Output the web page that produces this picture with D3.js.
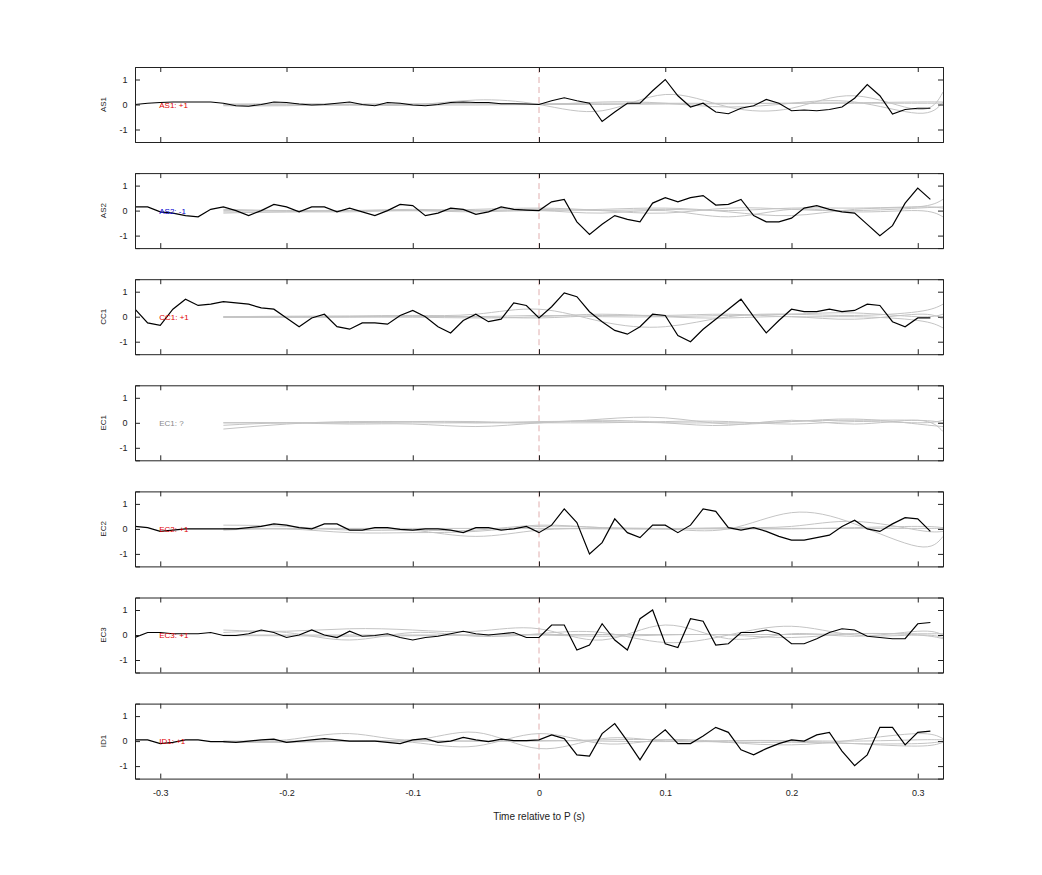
<!DOCTYPE html>
<html>
<head>
<meta charset="utf-8">
<script src="https://cdn.jsdelivr.net/npm/d3@7"></script>
<style>
  body { margin: 0; background: #fff; }
  text { font-family: "Liberation Sans", Arial, sans-serif; }
</style>
</head>
<body>
<div id="chart"></div>
<script>
// stations and their polarity labels
const stations = ["AS1", "AS2", "CC1", "EC1", "EC2", "EC3", "ID1"];
const polarity = ["+1", "-1", "+1", "?", "+1", "+1", "+1"];

// black trace sample times: -0.32 .. 0.31 every 0.01
const traceT = d3.range(64).map(i => Math.round((-0.32 + i * 0.01) * 100) / 100);

const traceAS1 = [0, 0.05, 0.08, 0.1, 0.1, 0.1, 0.1, 0.05, -0.05, -0.07, 0, 0.1, 0.08, 0.02, -0.02, 0, 0.05, 0.1, 0, -0.05, 0.08, 0.05, -0.02, -0.05, 0, 0.08, 0.1, 0.08, 0.08, 0.03, 0.03, 0.02,
  0, 0.15, 0.27, 0.15, 0.05, -0.68, -0.3, 0.05, 0.05, 0.55, 1.0, 0.35, -0.1, 0.05, -0.3, -0.37, -0.15, -0.05, 0.2, 0.05, -0.25, -0.22, -0.25, -0.2, -0.1, 0.25, 0.8, 0.35, -0.38, -0.2, -0.15, -0.15];
const traceAS2 = [0.15, 0.15, -0.05, -0.1, -0.2, -0.25, 0.05, 0.15, 0, -0.2, 0, 0.25, 0.15, -0.05, 0.15, 0.15, -0.05, 0.1, -0.05, -0.2, 0, 0.25, 0.2, -0.2, -0.1, 0.1, 0.05, -0.15, -0.05, 0.15, 0.05, 0.02,
  0, 0.35, 0.45, -0.45, -0.95, -0.55, -0.2, -0.35, -0.45, 0.3, 0.52, 0.35, 0.52, 0.6, 0.22, 0.25, 0.45, -0.2, -0.45, -0.45, -0.3, 0.1, 0.2, 0.05, -0.05, -0.1, -0.55, -1.0, -0.6, 0.3, 0.9, 0.45];
const traceCC1 = [0.3, -0.25, -0.35, 0.3, 0.7, 0.45, 0.5, 0.6, 0.55, 0.5, 0.35, 0.3, -0.05, -0.4, -0.05, 0.1, -0.4, -0.5, -0.25, -0.25, -0.3, 0.05, 0.25, 0, -0.4, -0.65, -0.15, 0.1, -0.2, -0.1, 0.55, 0.45,
  -0.05, 0.4, 0.95, 0.8, 0.2, -0.2, -0.55, -0.7, -0.4, 0.1, 0.05, -0.75, -1.0, -0.5, -0.1, 0.3, 0.7, 0, -0.65, -0.15, 0.3, 0.2, 0.2, 0.3, 0.2, 0.25, 0.5, 0.45, -0.2, -0.4, -0.05, -0.05];
const traceEC1 = null;
const traceEC2 = [0.1, 0.05, -0.1, -0.05, 0, 0, 0, 0, 0, 0.05, 0.1, 0.2, 0.15, 0.05, 0, 0.2, 0.2, -0.05, -0.05, 0.05, 0.05, -0.02, -0.05, 0, 0, -0.05, -0.15, 0.05, 0.05, -0.05, 0, 0.1,
  -0.15, 0.15, 0.8, 0.25, -1.0, -0.55, 0.4, -0.15, -0.35, 0.15, 0.15, -0.15, 0.15, 0.8, 0.7, 0.05, -0.05, 0.05, -0.1, -0.3, -0.45, -0.45, -0.35, -0.25, 0.1, 0.35, 0, -0.1, 0.2, 0.45, 0.4, -0.1];
const traceEC3 = [-0.1, 0.1, 0.1, 0.05, 0.05, 0.05, 0.1, -0.02, -0.02, 0.05, 0.2, 0.1, -0.1, 0, 0.2, 0, -0.1, 0.15, -0.05, -0.02, 0.05, -0.1, -0.2, -0.1, -0.05, 0.05, 0.15, 0.05, 0, 0.05, 0.1, -0.1,
  -0.1, 0.4, 0.4, -0.6, -0.4, 0.45, -0.2, -0.6, 0.65, 1.0, -0.35, -0.5, 0.65, 0.55, -0.4, -0.35, 0.1, 0.1, 0.2, 0.05, -0.35, -0.35, -0.15, 0.1, 0.25, 0.2, -0.05, -0.1, -0.15, -0.15, 0.45, 0.5];
const traceID1 = [0.05, 0.05, -0.1, -0.05, 0.05, 0.05, -0.02, -0.02, -0.05, 0, 0.05, 0.08, -0.05, 0, 0.05, 0.1, 0.05, 0, 0, 0, -0.05, -0.1, 0.05, 0.1, -0.05, 0, 0.15, 0.05, -0.02, 0.08, 0.02, 0.02,
  0.05, 0.25, 0.1, -0.55, -0.6, 0.3, 0.7, 0, -0.75, 0.05, 0.45, -0.1, -0.1, 0.2, 0.55, 0.35, -0.35, -0.55, -0.3, -0.1, 0.05, 0, 0.25, 0.35, -0.4, -0.98, -0.55, 0.55, 0.55, -0.15, 0.35, 0.4];
const traces = [traceAS1, traceAS2, traceCC1, traceEC1, traceEC2, traceEC3, traceID1];

// grey (synthetic) traces, coarse samples, drawn smooth
const greyT = [-0.25, -0.2, -0.15, -0.1, -0.05, 0, 0.05, 0.1, 0.15, 0.2, 0.25, 0.3, 0.32];
const greyAS1 = [
  [0, 0.02, 0, -0.02, 0.18, 0, -0.25, 0.4, -0.1, -0.15, 0.35, -0.2, 0.5],
  [-0.05, -0.05, 0, 0, 0.05, 0, 0.1, 0.05, -0.1, 0.05, 0.1, -0.35, 0.1],
  [0.02, 0.02, 0.02, 0.03, 0.03, 0.03, 0.05, 0.05, 0.05, 0.05, 0.07, 0.1, 0.1],
  [-0.02, -0.02, -0.03, -0.02, -0.02, 0, 0, 0.02, 0.03, 0.05, 0.05, 0.05, 0.05]
];
const greyAS2 = [
  [-0.05, -0.05, 0, 0, 0.05, 0.1, 0, -0.1, 0.1, 0.05, 0, 0.1, 0.15],
  [0.05, 0, 0, 0.05, 0, 0, 0.05, 0.1, -0.05, -0.2, 0.05, 0.15, 0.45],
  [-0.1, -0.05, -0.05, 0, -0.05, 0, -0.1, 0, -0.25, 0.05, -0.05, 0, -0.25],
  [0, 0, 0, 0, 0, 0.05, 0, 0.05, 0, 0.1, 0.1, 0.15, 0.1]
];
const greyCC1 = [
  [0, 0.02, 0.03, 0.05, 0.1, 0.3, -0.2, -0.4, 0, 0.1, 0.05, 0.2, 0.5],
  [-0.02, 0, 0, 0, 0, -0.05, 0.05, 0.05, 0.1, 0, 0, -0.15, -0.45],
  [0, 0, 0, 0.02, 0, 0.05, 0, 0, 0.05, 0.1, 0.15, 0, 0.1],
  [-0.03, -0.03, -0.02, -0.02, -0.05, 0, 0.1, 0, -0.05, 0, -0.1, 0.1, -0.1]
];
const greyEC1 = [
  [-0.25, -0.05, 0.05, 0.05, 0.05, 0, 0.15, 0.2, -0.05, 0.05, 0.1, 0.1, 0],
  [0, 0, -0.05, -0.05, -0.15, 0, 0.1, 0, -0.1, 0.1, -0.05, 0.1, -0.35],
  [-0.1, 0, 0, 0.05, 0, 0, 0, 0.05, 0.05, -0.05, 0.05, 0, 0.1],
  [0, 0, 0, 0, 0, 0.05, 0.05, 0, 0, 0.05, 0.15, -0.05, -0.15]
];
const greyEC2 = [
  [0.15, 0.1, -0.05, -0.05, -0.05, 0.15, 0.05, 0, 0, 0.65, 0.2, -0.7, -0.3],
  [-0.05, 0, -0.15, -0.15, -0.1, 0.1, 0.05, 0, 0.05, 0.1, 0.3, -0.05, -0.1],
  [0, 0, 0, -0.05, -0.3, -0.05, 0, 0, 0, 0, 0.05, 0.1, 0.05],
  [0.02, 0.02, 0.02, 0.02, 0.02, 0.02, 0.02, 0.02, 0.02, 0.02, 0.02, 0.02, 0.02]
];
const greyEC3 = [
  [0.2, 0.15, 0.25, 0.2, 0.15, 0.25, -0.2, 0.4, -0.15, 0.05, -0.05, 0.15, 0],
  [0.1, 0.1, -0.2, 0.1, -0.05, 0.05, 0.1, -0.3, 0, 0.35, 0, 0, -0.1],
  [0, 0, 0, 0, 0, 0.02, 0.02, 0.02, 0.02, 0.02, 0.05, 0.05, 0.05],
  [-0.03, -0.03, -0.05, -0.03, 0, 0, -0.05, 0, 0, -0.1, 0.05, 0, -0.15]
];
const greyID1 = [
  [0, 0.05, 0.3, 0.05, 0.35, -0.3, 0.1, 0, 0, 0, -0.1, -0.2, -0.05],
  [-0.05, -0.05, 0, -0.05, -0.2, 0.3, -0.1, 0.05, -0.05, -0.15, 0.05, 0.3, 0.1],
  [0, 0, 0, 0, 0, 0, 0.05, 0.05, -0.05, -0.05, -0.1, -0.1, 0],
  [-0.02, -0.02, 0, 0.02, 0, 0.02, 0, -0.02, 0.02, 0.02, 0, 0.05, 0.05]
];
const greys = [greyAS1, greyAS2, greyCC1, greyEC1, greyEC2, greyEC3, greyID1];

const xTicks = [-0.3, -0.2, -0.1, 0, 0.1, 0.2, 0.3];
const yTicks = [-1, 0, 1];

const width = 1042, height = 875;
const left = 135, right = 943;
const panelTop = 67, panelH = 75, panelStep = 106.1;

const svg = d3.select("#chart").append("svg")
    .attr("width", width)
    .attr("height", height);

const x = d3.scaleLinear().domain([-0.32, 0.32]).range([left, right]);

const labelColor = p => p === "+1" ? "#e00000" : p === "-1" ? "#0000d0" : "#888";
const plain = d => String(d);

stations.forEach(function(name, i) {
  const top = panelTop + i * panelStep;
  const y = d3.scaleLinear().domain([-1.5, 1.5]).range([top + panelH, top]);
  const g = svg.append("g");

  const clipId = "clip" + i;
  g.append("clipPath").attr("id", clipId)
    .append("rect").attr("x", left).attr("y", top).attr("width", right - left).attr("height", panelH);

  // dashed line at P
  g.append("line")
    .attr("x1", x(0)).attr("x2", x(0))
    .attr("y1", top).attr("y2", top + panelH)
    .attr("stroke", "#d89a9a").attr("stroke-width", 0.8)
    .attr("stroke-dasharray", "6,4");

  const plot = g.append("g").attr("clip-path", "url(#" + clipId + ")");

  const greyLine = d3.line()
    .x((d, k) => x(greyT[k]))
    .y(d => y(d))
    .curve(d3.curveNatural);

  plot.selectAll("path.grey")
    .data(greys[i])
    .enter()
    .append("path")
    .attr("class", "grey")
    .attr("d", greyLine)
    .attr("fill", "none")
    .attr("stroke", "#c4c4c4")
    .attr("stroke-width", 1);

  if (traces[i]) {
    const line = d3.line()
      .x((d, k) => x(traceT[k]))
      .y(d => y(d));
    plot.append("path")
      .datum(traces[i])
      .attr("d", line)
      .attr("fill", "none")
      .attr("stroke", "#000")
      .attr("stroke-width", 1.2);
  }

  g.append("text")
    .attr("x", x(-0.3) - 1)
    .attr("y", y(0) + 3)
    .attr("font-size", 8)
    .attr("fill", labelColor(polarity[i]))
    .text(name + ": " + polarity[i]);

  // axes with inward ticks on all sides
  const axB = g.append("g").attr("transform", "translate(0," + (top + panelH) + ")")
    .call(d3.axisBottom(x).tickValues(xTicks).tickSize(-5).tickFormat(i === stations.length - 1 ? plain : ""));
  const axT = g.append("g").attr("transform", "translate(0," + top + ")")
    .call(d3.axisTop(x).tickValues(xTicks).tickSize(-5).tickFormat(""));
  const axL = g.append("g").attr("transform", "translate(" + left + ",0)")
    .call(d3.axisLeft(y).tickValues(yTicks).tickSize(-5).tickFormat(plain));
  const axR = g.append("g").attr("transform", "translate(" + right + ",0)")
    .call(d3.axisRight(y).tickValues(yTicks).tickSize(-5).tickFormat(""));

  [axB, axT, axL, axR].forEach(function(a) {
    a.select(".domain").attr("stroke", "#222");
    a.selectAll(".tick line").attr("stroke", "#222");
    a.selectAll(".tick text").attr("font-size", 9).attr("fill", "#222")
      .attr("font-family", "Liberation Sans, Arial, sans-serif");
  });
  axB.selectAll(".tick text").attr("dy", "1.6em");
  axL.selectAll(".tick text").attr("dx", "-0.5em");

  g.append("text")
    .attr("transform", "translate(106," + y(0) + ") rotate(-90)")
    .attr("text-anchor", "middle")
    .attr("font-size", 8)
    .attr("fill", "#222")
    .text(name);
});

svg.append("text")
  .attr("x", x(0))
  .attr("y", 820)
  .attr("text-anchor", "middle")
  .attr("font-size", 10)
  .attr("fill", "#222")
  .text("Time relative to P (s)");
</script>
</body>
</html>
